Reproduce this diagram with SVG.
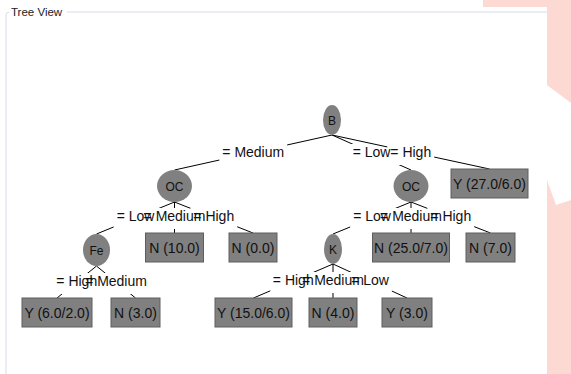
<svg xmlns="http://www.w3.org/2000/svg" width="571" height="374" viewBox="0 0 571 374">
<style>
.ln{stroke:#000;stroke-width:1;fill:none}
.bg{fill:#fff}
.lbl{font-family:"Liberation Sans",Arial,sans-serif;font-size:14px;fill:#111;text-anchor:middle}
.box{fill:#808080;stroke:#5e5e5e;stroke-width:1}
.ell{fill:#808080}
.nt{font-family:"Liberation Sans",Arial,sans-serif;font-size:14px;fill:#111;text-anchor:middle}
.et{font-family:"Liberation Sans",Arial,sans-serif;font-size:12px;fill:#111;text-anchor:middle}
</style>
<rect x="0" y="0" width="571" height="374" fill="#fff"/>
<rect x="483" y="0" width="88" height="374" fill="#fcd9d3"/>
<polygon points="547,85 571,103 571,200 556,205 547,180" fill="#fff"/>
<rect x="0" y="7" width="547" height="367" fill="#fff"/>
<g id="frame">
<path d="M9 12 L9 12 Q6 12 6 15 L6 374" stroke="#d5dde6" stroke-width="1" fill="none"/>
<line x1="67" y1="12" x2="547" y2="12" stroke="#d5dde6" stroke-width="1"/>
<text x="11" y="16" font-family="'Liberation Sans',Arial,sans-serif" font-size="11.5" fill="#222">Tree View</text>
</g>
<g id="connectors">
<path class="ln" d="M332 135 L174.5 170"/><rect class="bg" x="219.3" y="144" width="67.9" height="21"/>
<path class="ln" d="M332 135 L411 170"/><rect class="bg" x="349.65" y="144" width="43.7" height="21"/>
<path class="ln" d="M332 135 L489.5 169"/><rect class="bg" x="387.3" y="144" width="46.9" height="21"/>
<path class="ln" d="M174.5 202 L96.5 234"/><rect class="bg" x="113.65" y="208" width="43.7" height="21"/>
<path class="ln" d="M174.5 202 L174.5 233"/><rect class="bg" x="140.55" y="208" width="67.9" height="21"/>
<path class="ln" d="M174.5 202 L253 233"/><rect class="bg" x="190.3" y="208" width="46.9" height="21"/>
<path class="ln" d="M411 202 L333 234"/><rect class="bg" x="350.15" y="208" width="43.7" height="21"/>
<path class="ln" d="M411 202 L411 233"/><rect class="bg" x="377.05" y="208" width="67.9" height="21"/>
<path class="ln" d="M411 202 L490.5 233"/><rect class="bg" x="427.3" y="208" width="46.9" height="21"/>
<path class="ln" d="M96.5 266 L57 298"/><rect class="bg" x="53.3" y="273" width="46.9" height="21"/>
<path class="ln" d="M96.5 266 L135.5 298"/><rect class="bg" x="82.05" y="273" width="67.9" height="21"/>
<path class="ln" d="M333 264 L253.5 298"/><rect class="bg" x="270.3" y="272" width="46.9" height="21"/>
<path class="ln" d="M333 264 L333 298"/><rect class="bg" x="299.05" y="272" width="67.9" height="21"/>
<path class="ln" d="M333 264 L407 298"/><rect class="bg" x="348.15" y="272" width="43.7" height="21"/>
<text class="lbl" x="253.25" y="157">= Medium</text>
<text class="lbl" x="371.5" y="157">= Low</text>
<text class="lbl" x="410.75" y="157">= High</text>
<text class="lbl" x="135.5" y="221">= Low</text>
<text class="lbl" x="174.5" y="221">= Medium</text>
<text class="lbl" x="213.75" y="221">= High</text>
<text class="lbl" x="372" y="221">= Low</text>
<text class="lbl" x="411" y="221">= Medium</text>
<text class="lbl" x="450.75" y="221">= High</text>
<text class="lbl" x="76.75" y="286">= High</text>
<text class="lbl" x="116" y="286">= Medium</text>
<text class="lbl" x="293.25" y="285">= High</text>
<text class="lbl" x="333" y="285">= Medium</text>
<text class="lbl" x="370" y="285">= Low</text>
</g>
<g id="n-B"><ellipse class="ell" cx="332" cy="120" rx="9" ry="15"/><text class="et" x="332" y="124.5">B</text></g>
<g id="n-OC1"><ellipse class="ell" cx="174.5" cy="186" rx="17.5" ry="16"/><text class="et" x="174.5" y="190.5">OC</text></g>
<g id="n-OC2"><ellipse class="ell" cx="411" cy="186" rx="17.5" ry="16"/><text class="et" x="411" y="190.5">OC</text></g>
<g id="n-Y27"><rect class="box" x="451" y="169" width="77" height="29"/><text class="nt" x="489.5" y="189">Y (27.0/6.0)</text></g>
<g id="n-Fe"><ellipse class="ell" cx="96.5" cy="250" rx="13.5" ry="16"/><text class="et" x="96.5" y="254.5">Fe</text></g>
<g id="n-N10"><rect class="box" x="145.5" y="233" width="58" height="29"/><text class="nt" x="174.5" y="253">N (10.0)</text></g>
<g id="n-N0"><rect class="box" x="229" y="233" width="48" height="29"/><text class="nt" x="253" y="253">N (0.0)</text></g>
<g id="n-K"><ellipse class="ell" cx="333" cy="249" rx="9" ry="15"/><text class="et" x="333" y="253.5">K</text></g>
<g id="n-N25"><rect class="box" x="372.5" y="233" width="77" height="29"/><text class="nt" x="411" y="253">N (25.0/7.0)</text></g>
<g id="n-N7"><rect class="box" x="466" y="233" width="49" height="29"/><text class="nt" x="490.5" y="253">N (7.0)</text></g>
<g id="n-Y6"><rect class="box" x="22" y="298" width="70" height="29"/><text class="nt" x="57" y="318">Y (6.0/2.0)</text></g>
<g id="n-N3"><rect class="box" x="111" y="298" width="49" height="29"/><text class="nt" x="135.5" y="318">N (3.0)</text></g>
<g id="n-Y15"><rect class="box" x="215" y="298" width="77" height="29"/><text class="nt" x="253.5" y="318">Y (15.0/6.0)</text></g>
<g id="n-N4"><rect class="box" x="309" y="298" width="48" height="29"/><text class="nt" x="333" y="318">N (4.0)</text></g>
<g id="n-Y3"><rect class="box" x="382" y="298" width="50" height="29"/><text class="nt" x="407" y="318">Y (3.0)</text></g>
</svg>
